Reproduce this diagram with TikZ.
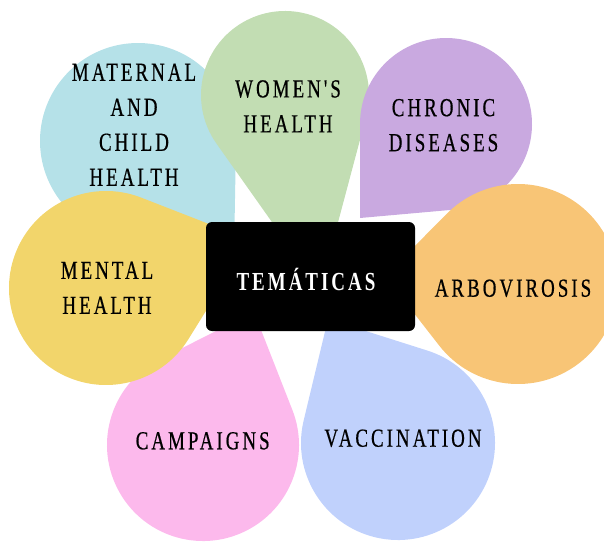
\documentclass[tikz,border=0pt]{standalone}
\usepackage{fontspec}
\newfontfamily\petalfont[FakeStretch=0.73,LetterSpace=11.5,FakeBold=0.5]{Liberation Serif}
\newfontfamily\hubfont[FakeStretch=0.73,LetterSpace=11.5]{Liberation Serif Bold}
\usetikzlibrary{calc}

\definecolor{maternalblue}{HTML}{B5E1E8}
\definecolor{womengreen}{HTML}{C2DDB3}
\definecolor{chronicpurple}{HTML}{C9A9E0}
\definecolor{arboorange}{HTML}{F8C576}
\definecolor{vaccblue}{HTML}{C0D1FC}
\definecolor{campaignpink}{HTML}{FCB9EC}
\definecolor{mentalyellow}{HTML}{F2D56B}

% teardrop: colour, centre of the round part, radius, tip
\newcommand{\petal}[4]{%
  \fill[#1] let \p1=($(#4)-(#2)$), \n1={atan2(\y1,\x1)},
    \n2={acos(#3/veclen(\x1,\y1))} in
    (#4) -- ($(#2)+(\n1+\n2:#3)$) arc[start angle=\n1+\n2, delta angle=360-2*\n2, radius=#3] -- cycle;}

\begin{document}
\begin{tikzpicture}[x=1pt,y=1pt,
  topic/.style={font=\petalfont\fontsize{26}{35}\selectfont, align=center, inner sep=0pt, text=black}]
\useasboundingbox (0,0) rectangle (604,-542);
% petals, back to front
\petal{maternalblue}{138,-141}{98}{234,-255}
\petal{womengreen}{285,-95}{84}{320,-290}
\petal{chronicpurple}{446,-124}{86}{360,-218}
\petal{arboorange}{518,-284}{100}{385,-276}
\petal{vaccblue}{398,-443}{97}{328,-319}
\petal{campaignpink}{203,-445}{96}{254,-312}
\petal{mentalyellow}{106,-288}{97}{250,-240}
% centre
\node[fill=black, rounded corners=6pt, minimum width=209pt, minimum height=109pt] (hub) at (310.5,-276.5) {};
\node[topic, text=white, font=\hubfont\fontsize{26}{35}\selectfont, anchor=base] (hubtext) at (306,-290.7) {TEMÁTICAS};
% labels
\node[topic] (maternal) at (134,-124.7) {MATERNAL\\AND\\CHILD\\HEALTH};
\node[topic] (women) at (288,-106.3) {WOMEN'S\\HEALTH};
\node[topic] (chronic) at (443.5,-125.2) {CHRONIC\\DISEASES};
\node[topic] (mental) at (107,-287.8) {MENTAL\\HEALTH};
\node[topic, anchor=base] (arbo) at (513,-296.7) {ARBOVIROSIS};
\node[topic, anchor=base] (campaigns) at (202.7,-449.3) {CAMPAIGNS};
\node[topic, anchor=base] (vaccination) at (403,-446.7) {VACCINATION};
\end{tikzpicture}
\end{document}
